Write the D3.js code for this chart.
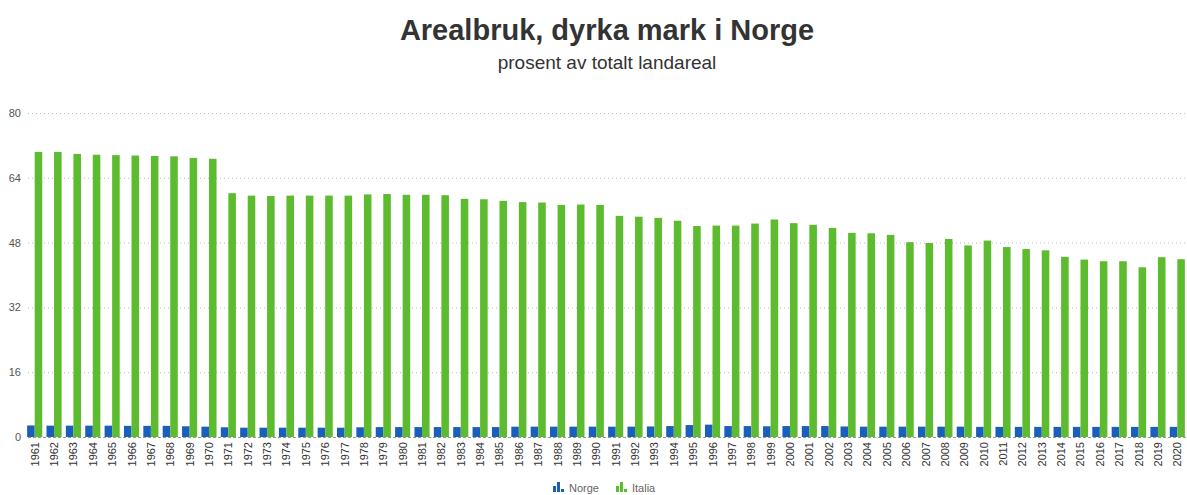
<!DOCTYPE html>
<html>
<head>
<meta charset="utf-8">
<script src="https://cdn.jsdelivr.net/npm/d3@7"></script>
<style>
  body { margin: 0; background: #fff; font-family: "Liberation Sans", Arial, sans-serif; }
  svg { display: block; }
</style>
</head>
<body>
<svg id="chart"></svg>
<script>
const years = d3.range(1961, 2021).map(String)

// arable land, % of total land area
const norge = [2.85, 2.8, 2.8, 2.8, 2.8, 2.75, 2.75, 2.75, 2.65, 2.55,
               2.4, 2.3, 2.3, 2.3, 2.3, 2.3, 2.3, 2.4, 2.45, 2.45,
               2.45, 2.45, 2.45, 2.45, 2.45, 2.55, 2.55, 2.55, 2.55, 2.55,
               2.55, 2.55, 2.6, 2.7, 2.95, 3.05, 2.7, 2.7, 2.65, 2.7,
               2.7, 2.7, 2.6, 2.55, 2.55, 2.55, 2.55, 2.55, 2.55, 2.5,
               2.5, 2.5, 2.5, 2.5, 2.5, 2.5, 2.5, 2.5, 2.5, 2.5]

const italia = [70.4, 70.4, 69.9, 69.7, 69.6, 69.5, 69.4, 69.3, 68.9, 68.7,
                60.2, 59.6, 59.5, 59.6, 59.6, 59.6, 59.6, 59.9, 60.0, 59.8,
                59.8, 59.7, 58.8, 58.7, 58.3, 58.0, 57.9, 57.3, 57.4, 57.3,
                54.6, 54.4, 54.1, 53.4, 52.1, 52.2, 52.2, 52.7, 53.7, 52.8,
                52.4, 51.6, 50.4, 50.3, 49.9, 48.1, 47.9, 48.9, 47.3, 48.5,
                46.9, 46.4, 46.1, 44.5, 43.8, 43.4, 43.4, 41.9, 44.4, 43.9]

const seriesNames = ['Norge', 'Italia']
const colors = { 'Norge': '#1a5fbd', 'Italia': '#5cbb2e' }
const yTicks = [0, 16, 32, 48, 64, 80]

const width = 1187
const height = 495

const svg = d3.select('#chart')
    .attr('width', width)
    .attr('height', height)

// titles
svg.append('text')
    .attr('x', 607).attr('y', 40)
    .attr('text-anchor', 'middle')
    .style('font-size', '29px')
    .style('font-weight', 'bold')
    .style('fill', '#333')
    .text('Arealbruk, dyrka mark i Norge')

svg.append('text')
    .attr('x', 607).attr('y', 69)
    .attr('text-anchor', 'middle')
    .style('font-size', '19px')
    .style('fill', '#333')
    .text('prosent av totalt landareal')

const x = d3.scaleBand()
    .domain(years)
    .range([25, 1187])
    .paddingInner(0.22)
    .paddingOuter(0.11)

const xSub = d3.scaleBand()
    .domain(seriesNames)
    .range([0, x.bandwidth()])

const y = d3.scaleLinear()
    .domain([0, 80])
    .range([437, 113])

// gridlines
svg.append('g')
    .selectAll('line')
    .data(yTicks)
    .enter().append('line')
    .attr('x1', 28).attr('x2', width)
    .attr('y1', d => y(d) + 0.5).attr('y2', d => y(d) + 0.5)
    .style('stroke', d => d === 0 ? '#999' : '#bbb')
    .style('stroke-dasharray', d => d === 0 ? '3,2' : '1,3')

svg.append('g')
    .selectAll('text')
    .data(yTicks)
    .enter().append('text')
    .attr('x', 21)
    .attr('y', d => y(d) + 4)
    .attr('text-anchor', 'end')
    .style('font-size', '11px')
    .style('fill', '#555')
    .text(d => d)

const rows = years.map((yr, i) => ({ year: yr, Norge: norge[i], Italia: italia[i] }))

const group = svg.append('g')
    .selectAll('g')
    .data(rows)
    .enter().append('g')
    .attr('transform', d => `translate(${x(d.year)},0)`)

group.selectAll('rect')
    .data(d => seriesNames.map(k => ({ key: k, value: d[k] })))
    .enter().append('rect')
    .attr('x', d => xSub(d.key))
    .attr('width', xSub.bandwidth())
    .attr('y', d => y(d.value))
    .attr('height', d => y(0) - y(d.value))
    .style('fill', d => colors[d.key])

// x labels, rotated
svg.append('g')
    .selectAll('text')
    .data(years)
    .enter().append('text')
    .attr('transform', d => `translate(${x(d) + x.bandwidth() / 2 + 4},442) rotate(-90)`)
    .attr('text-anchor', 'end')
    .style('font-size', '11px')
    .style('fill', '#333')
    .text(d => d)

// legend
const legend = svg.append('g')
    .attr('transform', 'translate(553,481)')

const item = legend.selectAll('g')
    .data(seriesNames)
    .enter().append('g')
    .attr('transform', (d, i) => `translate(${i * 63},0)`)

item.selectAll('rect')
    .data(d => [[0, 6, d], [4, 10, d], [8, 3, d]])
    .enter().append('rect')
    .attr('x', d => d[0])
    .attr('y', d => 11 - d[1])
    .attr('width', 3)
    .attr('height', d => d[1])
    .style('fill', d => colors[d[2]])

item.append('text')
    .attr('x', 16)
    .attr('y', 11)
    .style('font-size', '11px')
    .style('fill', '#666')
    .text(d => d)
</script>
</body>
</html>
